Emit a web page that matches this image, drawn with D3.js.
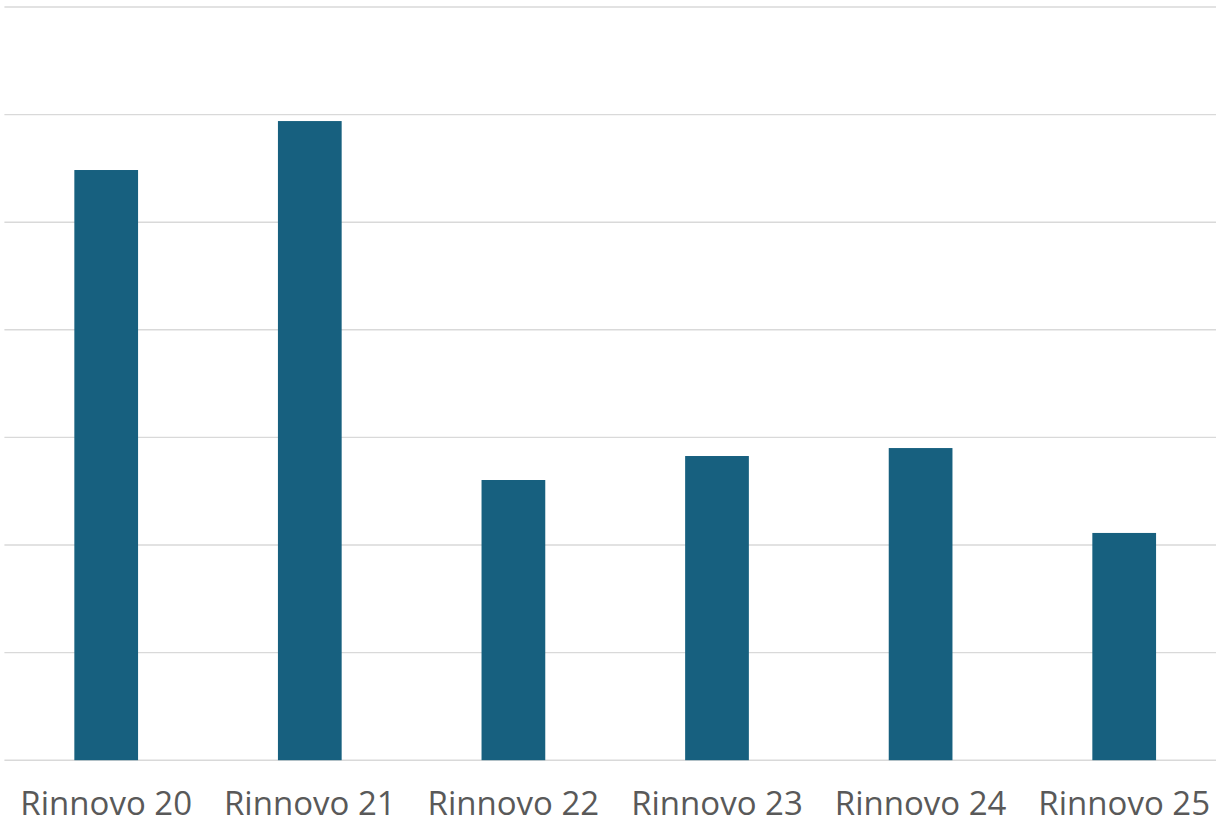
<!DOCTYPE html>
<html>
<head>
<meta charset="utf-8">
<script src="https://cdn.jsdelivr.net/npm/d3@7/dist/d3.min.js"></script>
<style>
  html, body { margin: 0; padding: 0; background: #ffffff; }
  svg { display: block; }
</style>
</head>
<body>
<svg id="chart" width="1216" height="825"></svg>
<script>
const categories = ["Rinnovo 20", "Rinnovo 21", "Rinnovo 22", "Rinnovo 23", "Rinnovo 24", "Rinnovo 25"];
const values = [54.85, 59.4, 26.04, 28.27, 29.01, 21.12];
const yTicks = [0, 10, 20, 30, 40, 50, 60, 70];

const svg = d3.select("#chart");
const W = 1216, H = 825;
const x0 = 4.4, step = 203.6;
const x = d3.scaleBand()
  .domain(categories)
  .range([x0, x0 + step * categories.length])
  .paddingInner(0.687)
  .paddingOuter(0.3435);
const y = d3.scaleLinear().domain([0, 70]).range([760.2, 7]);

// gridlines
svg.append("g")
  .selectAll("line")
  .data(yTicks)
  .join("line")
  .attr("x1", x0)
  .attr("x2", W)
  .attr("y1", d => y(d))
  .attr("y2", d => y(d))
  .attr("stroke", "#d9d9d9")
  .attr("stroke-width", 1.4);

// bars
svg.append("g")
  .selectAll("rect")
  .data(values)
  .join("rect")
  .attr("x", (d, i) => x(categories[i]))
  .attr("width", x.bandwidth())
  .attr("y", d => y(d))
  .attr("height", d => y(0) - y(d))
  .attr("fill", "#17607f");

// x axis labels
const xAxis = d3.axisBottom(x).tickSize(0).tickPadding(0);
const gx = svg.append("g").attr("transform", `translate(0, ${y(0)})`).call(xAxis);
gx.select(".domain").remove();
gx.selectAll("text")
  .attr("dy", null)
  .attr("y", 54.8)
  .attr("fill", "#595959")
  .style("font-family", "'Open Sans', sans-serif")
  .style("font-size", "33px");
</script>
</body>
</html>
